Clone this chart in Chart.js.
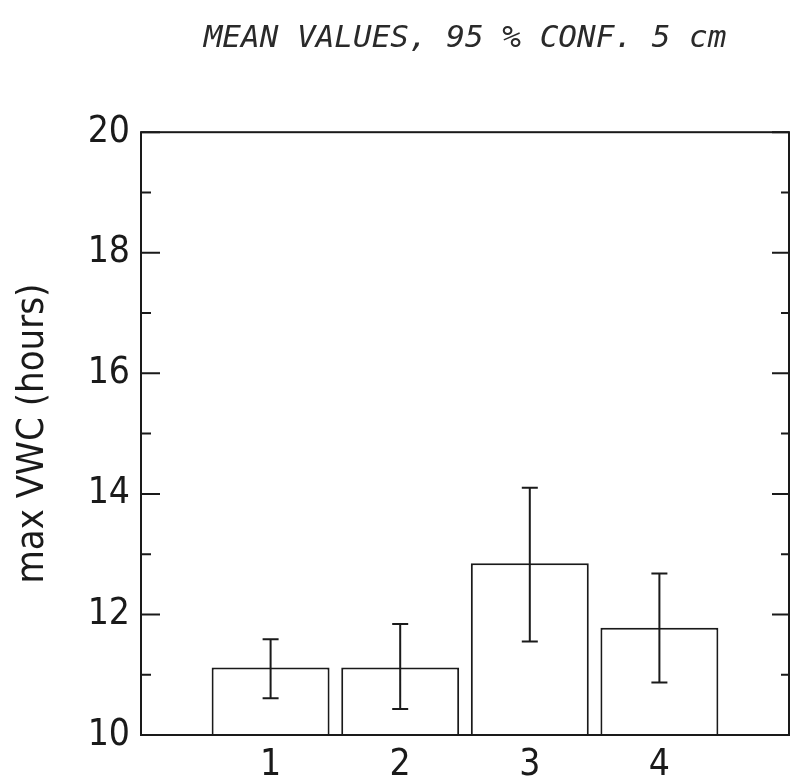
<!DOCTYPE html>
<html>
<head>
<meta charset="utf-8">
<script src="https://cdn.jsdelivr.net/npm/chart.js@4/dist/chart.umd.min.js"></script>
<style>
  html, body { margin: 0; padding: 0; background: #fff; }
  #wrap { width: 790px; height: 782px; }
</style>
</head>
<body>
<div id="wrap"><canvas id="barChart"></canvas></div>
<script>
const groups = [1, 2, 3, 4];
const means = [11.12, 11.12, 12.85, 11.78];
const ciLow = [10.61, 10.43, 11.55, 10.87];
const ciHigh = [11.59, 11.84, 14.10, 12.68];
const yTicks = [10, 12, 14, 16, 18, 20];
const yMinor = [11, 13, 15, 17, 19];

const ink = '#1a1a1a';
const plotFont = "'Liberation Sans Narrow', 'DejaVu Sans Condensed', sans-serif";

// error bars + inward tick marks, drawn through the chart's own scales
const extras = {
    id: 'extras',
    afterDatasetsDraw(chart) {
        const ctx = chart.ctx;
        const x = chart.scales.x;
        const y = chart.scales.y;
        const area = chart.chartArea;
        ctx.save();
        ctx.strokeStyle = ink;
        ctx.lineWidth = 2;
        ctx.beginPath();
        groups.forEach(function (g, i) {
            const px = x.getPixelForValue(g);
            const lo = y.getPixelForValue(ciLow[i]);
            const hi = y.getPixelForValue(ciHigh[i]);
            ctx.moveTo(px, lo); ctx.lineTo(px, hi);
            ctx.moveTo(px - 8, lo); ctx.lineTo(px + 8, lo);
            ctx.moveTo(px - 8, hi); ctx.lineTo(px + 8, hi);
        });
        yTicks.forEach(function (v) {
            const py = y.getPixelForValue(v);
            ctx.moveTo(area.left, py); ctx.lineTo(area.left + 19, py);
            ctx.moveTo(area.right, py); ctx.lineTo(area.right - 17, py);
        });
        yMinor.forEach(function (v) {
            const py = y.getPixelForValue(v);
            ctx.moveTo(area.left, py); ctx.lineTo(area.left + 10, py);
            ctx.moveTo(area.right, py); ctx.lineTo(area.right - 8, py);
        });
        ctx.stroke();
        ctx.strokeRect(area.left, area.top, area.right - area.left, area.bottom - area.top);
        ctx.restore();
    }
};

new Chart(document.getElementById('barChart'), {
    type: 'bar',
    data: {
        datasets: [{
            data: groups.map(function (g, i) { return { x: g, y: means[i] }; }),
            backgroundColor: '#ffffff',
            borderColor: ink,
            borderWidth: 2,
            categoryPercentage: 1,
            barPercentage: 0.91,
            base: 10
        }]
    },
    options: {
        responsive: true,
        maintainAspectRatio: false,
        animation: false,
        layout: { padding: { right: 1 } },
        plugins: {
            legend: { display: false },
            tooltip: { enabled: false },
            title: {
                display: true,
                fullSize: false,
                text: 'MEAN VALUES, 95 % CONF. 5 cm',
                color: '#2a2a2a',
                font: { family: "'DejaVu Sans Mono', monospace", size: 31, style: 'italic', weight: 'normal' },
                padding: { top: 20, bottom: 75 }
            }
        },
        scales: {
            x: {
                type: 'linear',
                min: 0,
                max: 5,
                offset: false,
                afterBuildTicks: function (scale) {
                    scale.ticks = groups.map(function (g) { return { value: g }; });
                },
                afterFit: function (scale) { scale.height = 47; },
                grid: { display: false, drawTicks: false },
                border: { display: false },
                ticks: {
                    color: ink,
                    padding: 8,
                    font: { family: plotFont, size: 37 }
                }
            },
            y: {
                min: 10,
                max: 20,
                afterBuildTicks: function (scale) {
                    scale.ticks = yTicks.map(function (v) { return { value: v }; });
                },
                afterFit: function (scale) { scale.width = 141; },
                grid: { display: false, drawTicks: false },
                border: { display: false },
                ticks: {
                    color: ink,
                    padding: 11,
                    font: { family: plotFont, size: 37 }
                },
                title: {
                    display: true,
                    text: 'max VWC (hours)',
                    color: ink,
                    font: { family: plotFont, size: 38 },
                    padding: { top: 10, bottom: 0 }
                }
            }
        }
    },
    plugins: [extras]
});
</script>
</body>
</html>
